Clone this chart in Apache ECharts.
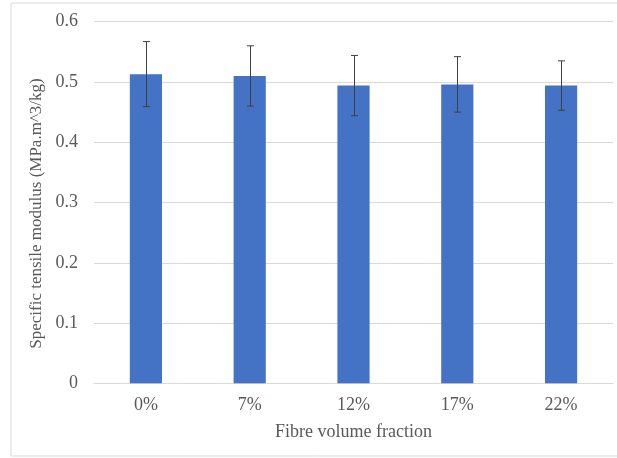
<!DOCTYPE html>
<html><head><meta charset="utf-8">
<script src="https://cdn.jsdelivr.net/npm/echarts@6/dist/echarts.min.js"></script>
<style>html,body{margin:0;padding:0;background:#fff}#c{width:617px;height:458px}</style>
</head><body><div id="c"></div>
<script>
const categories = ['0%', '7%', '12%', '17%', '22%'];
const values = [0.513, 0.510, 0.494, 0.496, 0.494];
const errors = [0.054, 0.050, 0.050, 0.046, 0.041];
const yTicks = [0, 0.1, 0.2, 0.3, 0.4, 0.5, 0.6];

const chart = echarts.init(document.getElementById('c'));
const font = 'Liberation Serif';
chart.setOption({
  animation: false,
  graphic: [{type:'rect', shape:{x:11, y:3, width:640, height:453}, style:{fill:'none', stroke:'#d9d9d9', lineWidth:1}, z:-1}],
  grid: {left: 94, right: 4, top: 21.7, bottom: 74.7},
  xAxis: {
    type: 'category', data: categories,
    axisLine: {lineStyle: {color: '#d9d9d9'}},
    axisTick: {show: false},
    axisLabel: {color: '#595959', fontFamily: font, fontSize: 18, margin: 13},
    name: 'Fibre volume fraction', nameLocation: 'middle', nameGap: 40,
    nameTextStyle: {color: '#595959', fontFamily: font, fontSize: 18}
  },
  yAxis: {
    type: 'value', min: 0, max: yTicks[yTicks.length-1], interval: 0.1,
    axisLabel: {color: '#595959', fontFamily: font, fontSize: 18, margin: 16,
      formatter: v => yTicks.includes(+v.toFixed(1)) ? (v === 0 ? '0' : v.toFixed(1)) : ''},
    splitLine: {lineStyle: {color: '#d9d9d9'}},
    axisLine: {show: false}, axisTick: {show: false},
    name: 'Specific tensile modulus (MPa.m^3/kg)', nameLocation: 'middle', nameGap: 26,
    nameTextStyle: {color: '#595959', fontFamily: font, fontSize: 17, padding: [0, 22, 0, 0]}
  },
  series: [
    {type: 'bar', data: values, barWidth: '31%', itemStyle: {color: '#4472C4'}},
    {type: 'custom', data: values.map((v, i) => [i, v - errors[i], v + errors[i]]), z: 10,
      renderItem: (params, api) => {
        const lo = api.coord([api.value(0), api.value(1)]);
        const hi = api.coord([api.value(0), api.value(2)]);
        const x = Math.round(lo[0]) + 0.5;
        const st = {stroke: '#404040', lineWidth: 1};
        return {type: 'group', children: [
          {type: 'line', shape: {x1: x, y1: lo[1], x2: x, y2: hi[1]}, style: st},
          {type: 'line', shape: {x1: x - 3.5, y1: hi[1], x2: x + 3.5, y2: hi[1]}, style: st},
          {type: 'line', shape: {x1: x - 3.5, y1: lo[1], x2: x + 3.5, y2: lo[1]}, style: st}
        ]};
      }}
  ]
});
</script></body></html>
